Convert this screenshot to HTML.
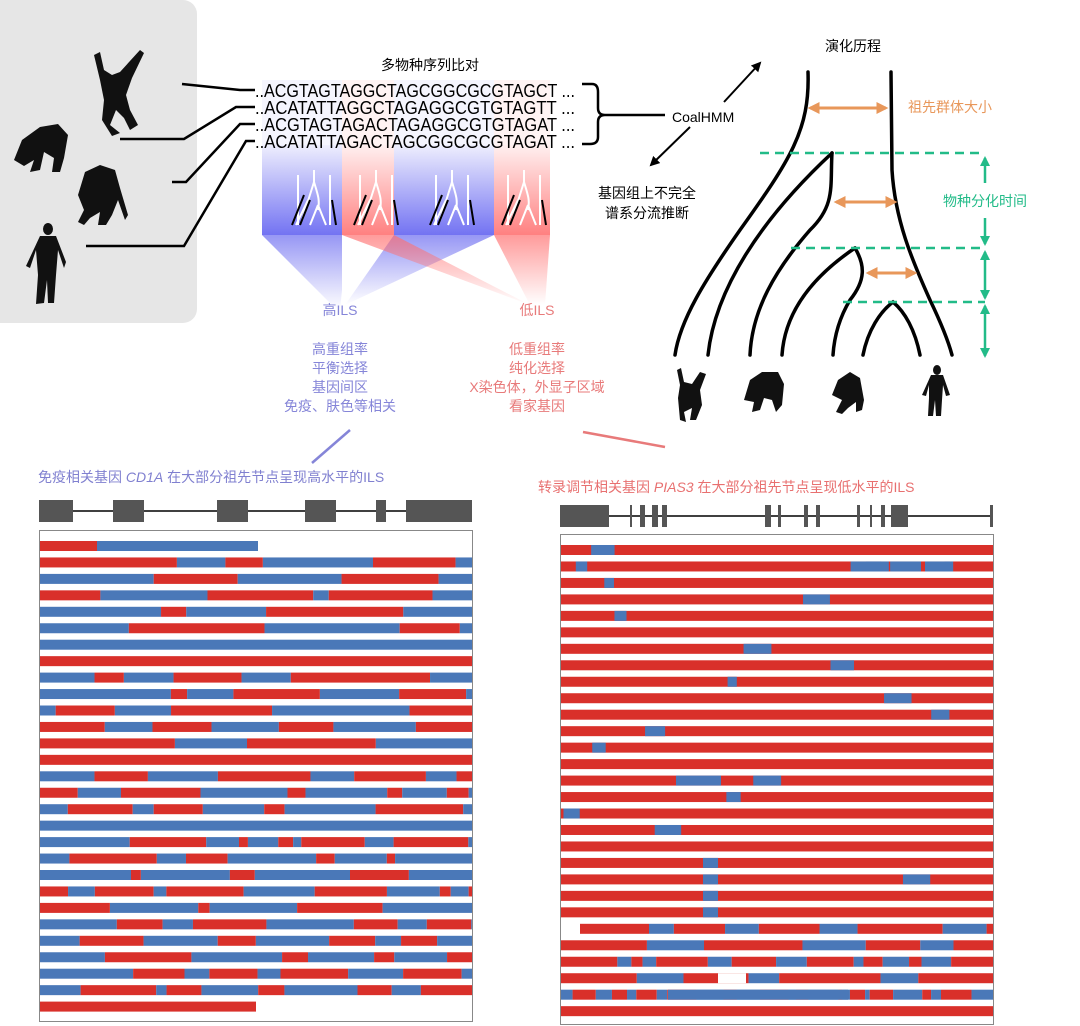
<!DOCTYPE html>
<html><head><meta charset="utf-8">
<style>
body{margin:0;background:#fff;}
svg{display:block;}
text{font-family:"Liberation Sans","Noto Sans CJK SC",sans-serif;}
</style></head>
<body>
<svg id="s" width="1080" height="1026" viewBox="0 0 1080 1026" xmlns="http://www.w3.org/2000/svg">
<defs>
<linearGradient id="gb" x1="0" y1="0" x2="0" y2="1"><stop offset="0" stop-color="#5a5af0" stop-opacity="0.1"/><stop offset="1" stop-color="#5a5af0" stop-opacity="0.85"/></linearGradient>
<linearGradient id="gr" x1="0" y1="0" x2="0" y2="1"><stop offset="0" stop-color="#ff6a6a" stop-opacity="0.1"/><stop offset="1" stop-color="#ff6a6a" stop-opacity="0.85"/></linearGradient>
<linearGradient id="fb" x1="0" y1="0" x2="0" y2="1"><stop offset="0" stop-color="#6a6af0" stop-opacity="0.7"/><stop offset="1" stop-color="#6a6af0" stop-opacity="0"/></linearGradient>
<linearGradient id="fr" x1="0" y1="0" x2="0" y2="1"><stop offset="0" stop-color="#ff7070" stop-opacity="0.7"/><stop offset="1" stop-color="#ff7070" stop-opacity="0"/></linearGradient>
<marker id="ao" viewBox="0 0 10 10" refX="8" refY="5" markerWidth="4" markerHeight="4" orient="auto-start-reverse"><path d="M0,0L10,5L0,10z" fill="#e8975a"/></marker>
<marker id="ag" viewBox="0 0 10 10" refX="8" refY="5" markerWidth="4" markerHeight="4" orient="auto-start-reverse"><path d="M0,0L10,5L0,10z" fill="#22bb88"/></marker>
<marker id="ak" viewBox="0 0 10 10" refX="8" refY="5" markerWidth="5" markerHeight="5" orient="auto"><path d="M0,0L10,5L0,10z" fill="#000"/></marker>
</defs>
<rect x="-20" y="0" width="217" height="323" rx="14" fill="#e6e6e6"/>
<g fill="#111">
<path d="M94,55 L100,52 L104,70 L112,75 L120,72 L140,50 L144,53 L132,78 L126,95 L130,110 L138,125 L130,130 L124,118 L116,110 L110,125 L120,133 L112,136 L102,120 L104,100 L100,80 Z"/>
<path d="M14,160 L22,140 L40,127 L58,124 L68,135 L64,158 L60,172 L52,172 L54,158 L44,152 L40,170 L30,172 L34,160 L24,166 Z"/>
<path d="M78,195 L85,172 L100,165 L115,170 L120,188 L128,215 L125,220 L118,200 L112,215 L106,225 L98,225 L100,212 L90,218 L84,225 L78,222 L84,210 Z"/>
<ellipse cx="48" cy="229" rx="5" ry="6"/>
<path d="M40,236 L56,236 L66,262 L64,268 L58,250 L56,275 L54,303 L48,303 L47,280 L44,303 L36,304 L38,275 L36,250 L30,268 L26,266 Z"/>
</g>
<g fill="none" stroke="#000" stroke-width="2.5">
<path d="M182,84 L240,90 L255,90"/>
<path d="M120,139 L184,139 L236,107 L255,107"/>
<path d="M172,182 L186,182 L240,124 L255,124"/>
<path d="M86,246 L184,246 L246,141 L255,141"/>
</g>
<rect x="262" y="145" width="80" height="90" fill="url(#gb)"/>
<rect x="342" y="145" width="52" height="90" fill="url(#gr)"/>
<rect x="394" y="145" width="100" height="90" fill="url(#gb)"/>
<rect x="494" y="145" width="56" height="90" fill="url(#gr)"/>
<rect x="262" y="80" width="80" height="65" fill="#5a5af0" opacity="0.06"/>
<rect x="342" y="80" width="52" height="65" fill="#ff6a6a" opacity="0.08"/>
<rect x="394" y="80" width="100" height="65" fill="#5a5af0" opacity="0.06"/>
<rect x="494" y="80" width="56" height="65" fill="#ff6a6a" opacity="0.08"/>
<polygon points="262,235 342,235 342,290 340,310 332,305" fill="url(#fb)"/>
<polygon points="394,235 494,235 345,305" fill="url(#fb)"/>
<polygon points="342,235 394,235 530,305" fill="url(#fr)"/>
<polygon points="494,235 550,235 545,305 530,305" fill="url(#fr)"/>
<g fill="none" stroke-width="2">
<g transform="translate(290,170)"><path d="M8,5 L8,55 M40,5 L40,55 M24,0 L24,12 M24,12 L12,50 M24,12 C28,25 30,30 28,40 M18,30 L6,55 M28,35 L20,55 M28,35 L36,55" stroke="#fff"/><path d="M2,55 L14,25 M46,55 L42,30 M10,55 L20,30" stroke="#000"/></g>
<g transform="translate(352,170)"><path d="M8,5 L8,55 M40,5 L40,55 M24,0 L24,12 M24,12 L12,50 M24,12 C28,25 30,30 28,40 M18,30 L6,55 M28,35 L20,55 M28,35 L36,55" stroke="#fff"/><path d="M2,55 L14,25 M46,55 L42,30 M10,55 L20,30" stroke="#000"/></g>
<g transform="translate(428,170)"><path d="M8,5 L8,55 M40,5 L40,55 M24,0 L24,12 M24,12 L12,50 M24,12 C28,25 30,30 28,40 M18,30 L6,55 M28,35 L20,55 M28,35 L36,55" stroke="#fff"/><path d="M2,55 L14,25 M46,55 L42,30 M10,55 L20,30" stroke="#000"/></g>
<g transform="translate(500,170)"><path d="M8,5 L8,55 M40,5 L40,55 M24,0 L24,12 M24,12 L12,50 M24,12 C28,25 30,30 28,40 M18,30 L6,55 M28,35 L20,55 M28,35 L36,55" stroke="#fff"/><path d="M2,55 L14,25 M46,55 L42,30 M10,55 L20,30" stroke="#000"/></g>
</g>
<g font-size="18" fill="#000" style="font-family:'Liberation Sans Narrow','Liberation Sans',sans-serif">
<text x="255" y="97" textLength="320" lengthAdjust="spacingAndGlyphs">..ACGTAGTAGGCTAGCGGCGCGTAGCT ...</text>
<text x="255" y="114" textLength="320" lengthAdjust="spacingAndGlyphs">..ACATATTAGGCTAGAGGCGTGTAGTT ...</text>
<text x="255" y="131" textLength="320" lengthAdjust="spacingAndGlyphs">..ACGTAGTAGACTAGAGGCGTGTAGAT ...</text>
<text x="255" y="148" textLength="320" lengthAdjust="spacingAndGlyphs">..ACATATTAGACTAGCGGCGCGTAGAT ...</text>
</g>
<path d="M582,84 L592,84 Q598,84 598,92 L598,108 Q598,115 605,115 Q598,115 598,122 L598,137 Q598,144 590,144 L582,144 M605,115 L665,115" fill="none" stroke="#000" stroke-width="2.5"/>
<text x="430" y="70" font-size="14" text-anchor="middle">多物种序列比对</text>
<text x="672" y="122" font-size="14">CoalHMM</text>
<line x1="724" y1="102" x2="760" y2="63" stroke="#000" stroke-width="2" marker-end="url(#ak)"/>
<line x1="690" y1="127" x2="651" y2="165" stroke="#000" stroke-width="2" marker-end="url(#ak)"/>
<text x="647" y="198" font-size="14" text-anchor="middle">基因组上不完全</text>
<text x="647" y="218" font-size="14" text-anchor="middle">谱系分流推断</text>
<text x="853" y="51" font-size="14" text-anchor="middle">演化历程</text>
<g font-size="14" text-anchor="middle" fill="#8585d8">
<text x="340" y="315">高ILS</text>
<text x="340" y="354">高重组率</text><text x="340" y="373">平衡选择</text><text x="340" y="392">基因间区</text><text x="340" y="411">免疫、肤色等相关</text>
</g>
<g font-size="14" text-anchor="middle" fill="#e87a7a">
<text x="537" y="315">低ILS</text>
<text x="537" y="354">低重组率</text><text x="537" y="373">纯化选择</text><text x="537" y="392">X染色体，外显子区域</text><text x="537" y="411">看家基因</text>
</g>
<line x1="350" y1="430" x2="312" y2="463" stroke="#8585d8" stroke-width="2.5"/>
<line x1="583" y1="432" x2="665" y2="447" stroke="#e87a7a" stroke-width="2.5"/>
<g fill="none" stroke="#000" stroke-width="3.5" stroke-linecap="round">
<path d="M808,72 C810,130 790,160 740,230 C705,280 680,320 675,355"/>
<path d="M708,355 C715,290 760,220 832,153"/>
<path d="M832,153 C830,185 836,205 810,230 C775,270 752,310 750,355"/>
<path d="M782,355 C785,310 815,275 855,248"/>
<path d="M855,248 C865,265 866,280 850,300 C838,320 834,340 833,355"/>
<path d="M863,355 C868,330 880,312 893,302 C905,312 915,330 920,355"/>
<path d="M891,72 L892,170 C895,220 912,260 930,300 C942,325 948,340 952,355"/>
</g>
<g stroke="#e8975a" stroke-width="3" fill="none">
<line x1="810" y1="108" x2="886" y2="108" marker-start="url(#ao)" marker-end="url(#ao)"/>
<line x1="836" y1="202" x2="895" y2="202" marker-start="url(#ao)" marker-end="url(#ao)"/>
<line x1="868" y1="273" x2="915" y2="273" marker-start="url(#ao)" marker-end="url(#ao)"/>
</g>
<text x="908" y="112" font-size="14" fill="#e8975a">祖先群体大小</text>
<g stroke="#22bb88" stroke-width="2.5" fill="none">
<line x1="760" y1="153" x2="985" y2="153" stroke-dasharray="9,6"/>
<line x1="791" y1="248" x2="985" y2="248" stroke-dasharray="9,6"/>
<line x1="843" y1="302" x2="985" y2="302" stroke-dasharray="9,6"/>
<line x1="985" y1="183" x2="985" y2="158" marker-end="url(#ag)"/>
<line x1="985" y1="218" x2="985" y2="244" marker-end="url(#ag)"/>
<line x1="985" y1="252" x2="985" y2="298" marker-start="url(#ag)" marker-end="url(#ag)"/>
<line x1="985" y1="306" x2="985" y2="356" marker-start="url(#ag)" marker-end="url(#ag)"/>
</g>
<text x="943" y="206" font-size="14" fill="#22bb88">物种分化时间</text>
<g fill="#111">
<path d="M677,370 L681,368 L684,382 L692,384 L700,372 L706,374 L700,390 L702,405 L696,420 L690,420 L692,408 L684,412 L686,422 L680,420 L678,398 L680,385 Z"/>
<path d="M744,400 L750,380 L762,372 L778,372 L784,384 L782,405 L776,412 L772,400 L764,398 L760,410 L752,412 L754,402 Z"/>
<path d="M832,395 L838,380 L850,372 L860,378 L864,400 L862,410 L856,412 L856,402 L848,408 L842,414 L836,412 L842,400 Z"/>
<ellipse cx="937" cy="370" rx="4" ry="5"/>
<path d="M931,375 L943,375 L950,395 L946,396 L943,385 L942,400 L941,416 L936,416 L935,400 L933,416 L928,416 L929,398 L929,385 L926,396 L922,395 Z"/>
</g>
<text x="38" y="482" font-size="14" fill="#8080d0">免疫相关基因 <tspan font-style="italic">CD1A</tspan> 在大部分祖先节点呈现高水平的ILS</text>
<text x="538" y="492" font-size="14" fill="#e87070">转录调节相关基因 <tspan font-style="italic">PIAS3</tspan> 在大部分祖先节点呈现低水平的ILS</text>
<line x1="39" y1="511" x2="472" y2="511" stroke="#000" stroke-width="1.5"/>
<g fill="#555">
<rect x="39" y="500" width="34" height="22"/><rect x="113" y="500" width="31" height="22"/><rect x="217" y="500" width="31" height="22"/><rect x="305" y="500" width="31" height="22"/><rect x="376" y="500" width="10" height="22"/><rect x="406" y="500" width="66" height="22"/>
</g>
<line x1="560" y1="516" x2="993" y2="516" stroke="#000" stroke-width="1.5"/>
<g fill="#555">
<rect x="560" y="505" width="49" height="22"/><rect x="630" y="505" width="2" height="22"/><rect x="640" y="505" width="5" height="22"/><rect x="652" y="505" width="6" height="22"/><rect x="662" y="505" width="5" height="22"/><rect x="765" y="505" width="6" height="22"/><rect x="778" y="505" width="3" height="22"/><rect x="804" y="505" width="4" height="22"/><rect x="816" y="505" width="4" height="22"/><rect x="857" y="505" width="3" height="22"/><rect x="870" y="505" width="2" height="22"/><rect x="881" y="505" width="4" height="22"/><rect x="891" y="505" width="17" height="22"/><rect x="990" y="505" width="3" height="22"/>
</g>
<rect x="39.5" y="530.5" width="433" height="491" fill="none" stroke="#888" stroke-width="1"/>
<rect x="560.5" y="534.5" width="433" height="490" fill="none" stroke="#888" stroke-width="1"/>
<g id="bars"></g>
</svg>
<script>
(function(){
var R="#d9302a",B="#4a78b8",ns="http://www.w3.org/2000/svg",g=document.getElementById("bars");
var seed=7;function rnd(){seed=(seed*16807)%2147483647;return seed/2147483647;}
function rect(x,y,w,c){var r=document.createElementNS(ns,"rect");r.setAttribute("x",x);r.setAttribute("y",y);r.setAttribute("width",w);r.setAttribute("height",10);r.setAttribute("fill",c);g.appendChild(r);}
for(var i=0;i<29;i++){var y=541+i*16.45;var x0=40,x1=472;
 if(i==0){rect(40,y,57,R);rect(97,y,161,B);continue;}
 if(i==6||i==17){rect(x0,y,x1-x0,B);continue;}
 if(i==7||i==13){rect(x0,y,x1-x0,R);continue;}
 if(i==28){rect(40,y,216,R);continue;}
 var x=x0,c=rnd()<0.5?R:B;
 while(x<x1){var w=8+rnd()*(i>12?90:140);if(x+w>x1)w=x1-x;rect(x,y,w,c);x+=w;c=(c==R)?B:R;}
}
for(var i=0;i<29;i++){var y=545+i*16.47;var x0=561,x1=993;
 if(i<23){rect(x0,y,x1-x0,R);
   var n=(i==1)?6:(rnd()<0.6?1:0);
   for(var k=0;k<n;k++){var bx=x0+rnd()*400;rect(bx,y,8+rnd()*(i==1?25:20),B);}
   if(i==14)rect(676,y,45,B);
   if(i>=19&&i<=22)rect(703,y,15,B);
   continue;}
 if(i==28){rect(x0,y,x1-x0,R);continue;}
 var x=(i==23)?580:x0,c=R;
 var maxw=(i==25||i==27)?28:60;
 if(i==27)c=B;
 while(x<x1){var w=4+rnd()*maxw;if(c==R&&i!=27)w*=1.8;if(x+w>x1)w=x1-x;rect(x,y,w,c);x+=w;c=(c==R)?B:R;}
 if(i==26){var r=document.createElementNS(ns,"rect");r.setAttribute("x",718);r.setAttribute("y",y);r.setAttribute("width",28);r.setAttribute("height",10);r.setAttribute("fill","#fff");g.appendChild(r);}
 if(i==27)rect(668,y,180,B);
}
})();
</script>
</body></html>
